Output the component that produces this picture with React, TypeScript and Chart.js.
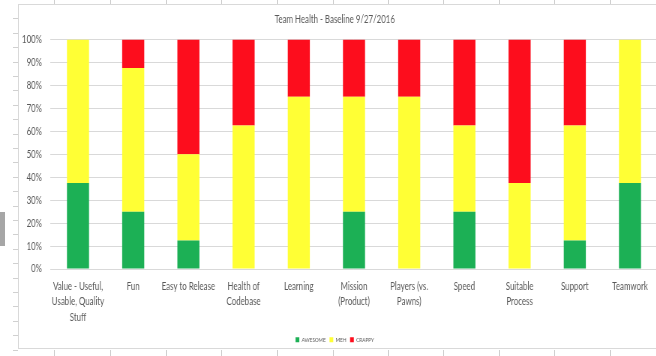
import React, { useEffect, useRef } from "react";
import { Chart, registerables } from "chart.js";

Chart.register(...registerables);

const categories: (string | string[])[] = [
  ["Value - Useful,", "Usable, Quality", "Stuff"],
  "Fun",
  "Easy to Release",
  ["Health of", "Codebase"],
  "Learning",
  ["Mission", "(Product)"],
  ["Players (vs.", "Pawns)"],
  "Speed",
  ["Suitable", "Process"],
  "Support",
  "Teamwork",
];

const awesome = [37.5, 25, 12.5, 0, 0, 25, 0, 25, 0, 12.5, 37.5];
const meh = [62.5, 62.5, 37.5, 62.5, 75, 50, 75, 37.5, 37.5, 50, 62.5];
const crappy = [0, 12.5, 50, 37.5, 25, 25, 25, 37.5, 62.5, 37.5, 0];

const seriesNames = ["AWESOME", "MEH", "CRAPPY"];
const titleText = "Team Health - Baseline 9/27/2016";

const FONT = "Lato, sans-serif";
const TEXT = "#595959";

// horizontal squeeze emulating a narrow (Calibri-like) face
const SX = 0.75;
const INNER_W = 880;
const CANVAS_H = 346;

const colLines = [54, 110, 166, 221, 277, 333, 388, 443, 499, 554, 610];
const rowLines = Array.from({ length: 24 }, (_, k) => 18.3 + 14.4 * k);

export default function App() {
  const ref = useRef<HTMLCanvasElement | null>(null);

  useEffect(() => {
    document.body.style.margin = "0";
    document.body.style.overflow = "hidden";
    if (!ref.current) return;
    const chart = new Chart(ref.current, {
      type: "bar",
      data: {
        labels: categories,
        datasets: [
          { label: seriesNames[0], data: awesome, backgroundColor: "#1cb055" },
          { label: seriesNames[1], data: meh, backgroundColor: "#ffff35" },
          { label: seriesNames[2], data: crappy, backgroundColor: "#fd0d1d" },
        ].map((d) => ({ ...d, barPercentage: 0.4, categoryPercentage: 1, borderWidth: 0 })),
      },
      options: {
        responsive: false,
        animation: false,
        layout: { padding: { left: 0, right: 19.2, top: 0, bottom: -2.8 } },
        plugins: {
          title: {
            display: true,
            text: titleText,
            color: TEXT,
            font: { family: FONT, size: 10.5, weight: "normal" },
            padding: { top: 9.6, bottom: 13.2 },
          },
          legend: {
            position: "bottom",
            labels: {
              boxWidth: 5,
              boxHeight: 5,
              color: TEXT,
              font: { family: FONT, size: 6.3 },
              padding: 5,
            },
          },
          tooltip: { enabled: false },
        },
        scales: {
          y: {
            stacked: true,
            min: 0,
            max: 100,
            ticks: {
              stepSize: 10,
              callback: (v: any) => v + "%",
              color: TEXT,
              font: { family: FONT, size: 10.5 },
              padding: 11.2,
            },
            grid: { color: "#d9d9d9", drawTicks: false },
            border: { display: false },
            afterFit: (s: any) => {
              s.width = 51.2;
            },
          },
          x: {
            stacked: true,
            grid: { display: false },
            border: { display: false },
            ticks: {
              color: TEXT,
              font: { family: FONT, size: 10.5, lineHeight: 1.45 },
              maxRotation: 0,
              autoSkip: false,
              padding: 2,
            },
            afterFit: (s: any) => {
              s.height = 62.4;
            },
          },
        },
      },
    });
    return () => chart.destroy();
  }, []);

  return (
    <div style={{ position: "relative", width: 656, height: 356, overflow: "hidden", background: "#fff" }}>
      {colLines.map((x) => (
        <div key={"t" + x} style={{ position: "absolute", left: x, top: 0, width: 1, height: 4, background: "#d0d0d0" }} />
      ))}
      {colLines.map((x) => (
        <div key={"b" + x} style={{ position: "absolute", left: x, top: 350, width: 1, height: 6, background: "#d0d0d0" }} />
      ))}
      {rowLines.map((y) => (
        <div key={"r" + y} style={{ position: "absolute", left: 13, top: Math.round(y), width: 5, height: 1, background: "#d0d0d0" }} />
      ))}
      <div style={{ position: "absolute", left: 0, top: 212, width: 5, height: 34, background: "#a6a6a6" }} />
      <div
        style={{
          position: "absolute",
          left: 18,
          top: 4,
          width: 660,
          height: 345,
          border: "1px solid #d9d9d9",
          boxSizing: "border-box",
        }}
      />
      <canvas
        ref={ref}
        width={INNER_W}
        height={CANVAS_H}
        style={{ position: "absolute", left: 12, top: 4, width: INNER_W * SX, height: CANVAS_H }}
      />
    </div>
  );
}
